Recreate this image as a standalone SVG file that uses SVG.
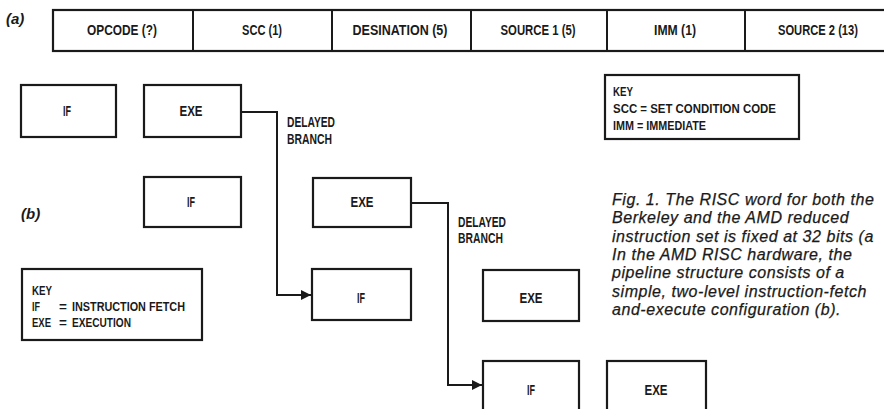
<svg xmlns="http://www.w3.org/2000/svg" width="884" height="409" viewBox="0 0 884 409">
<style>
  .bg{fill:#ffffff}
  .box{fill:#ffffff;stroke:#1a1a1a;stroke-width:2.2}
  .wire{fill:none;stroke:#1a1a1a;stroke-width:2}
  .lbl{font-family:"Liberation Sans",Arial,sans-serif;font-size:14.5px;font-weight:bold;fill:#1a1a1a}
  .key{font-size:13.5px}
  .mid{text-anchor:middle}
  .tag{font-family:"Liberation Sans",Arial,sans-serif;font-size:15px;font-weight:bold;font-style:italic;fill:#1a1a1a}
  .cap{font-family:"Liberation Sans",Arial,sans-serif;font-size:16px;font-style:italic;fill:#1a1a1a;letter-spacing:0.55px;stroke:#1a1a1a;stroke-width:0.25}
</style>
<defs>
  <marker id="arrow" viewBox="0 0 10 10" refX="10" refY="5" markerWidth="5" markerHeight="5" orient="auto" markerUnits="strokeWidth">
    <path d="M0,0 L10,5 L0,10 z" fill="#1a1a1a"/>
  </marker>
</defs>
<rect class="bg" x="0" y="0" width="884" height="409"/>

<text class="tag" x="6" y="24">(a)</text>
<text class="tag" x="21" y="219">(b)</text>

<g id="word">
  <rect class="box" x="53" y="10" width="840" height="41"/>
  <line class="wire" x1="193" y1="10" x2="193" y2="51"/>
  <line class="wire" x1="332" y1="10" x2="332" y2="51"/>
  <line class="wire" x1="471" y1="10" x2="471" y2="51"/>
  <line class="wire" x1="607" y1="10" x2="607" y2="51"/>
  <line class="wire" x1="745" y1="10" x2="745" y2="51"/>
  <text class="lbl mid" x="122" y="35" textLength="70" lengthAdjust="spacingAndGlyphs">OPCODE (?)</text>
  <text class="lbl mid" x="262" y="35" textLength="40" lengthAdjust="spacingAndGlyphs">SCC (1)</text>
  <text class="lbl mid" x="400" y="35" textLength="95" lengthAdjust="spacingAndGlyphs">DESINATION (5)</text>
  <text class="lbl mid" x="538" y="35" textLength="75" lengthAdjust="spacingAndGlyphs">SOURCE 1 (5)</text>
  <text class="lbl mid" x="675" y="35" textLength="42" lengthAdjust="spacingAndGlyphs">IMM (1)</text>
  <text class="lbl mid" x="818" y="35" textLength="80" lengthAdjust="spacingAndGlyphs">SOURCE 2 (13)</text>
</g>

<g id="key-a">
  <rect class="box" x="605" y="75" width="194" height="64"/>
  <text class="lbl key" x="613" y="96" textLength="20" lengthAdjust="spacingAndGlyphs">KEY</text>
  <text class="lbl key" x="613" y="113" textLength="163" lengthAdjust="spacingAndGlyphs">SCC = SET CONDITION CODE</text>
  <text class="lbl key" x="613" y="130" textLength="93" lengthAdjust="spacingAndGlyphs">IMM = IMMEDIATE</text>
</g>

<g id="if1">
  <rect class="box" x="21" y="85" width="95" height="52"/>
  <text class="lbl mid" x="67" y="116" textLength="8" lengthAdjust="spacingAndGlyphs">IF</text>
</g>
<g id="exe1">
  <rect class="box" x="144" y="85" width="97" height="52"/>
  <text class="lbl mid" x="191" y="116" textLength="23" lengthAdjust="spacingAndGlyphs">EXE</text>
</g>
<g id="if2">
  <rect class="box" x="144" y="177" width="97" height="50"/>
  <text class="lbl mid" x="191" y="207" textLength="8" lengthAdjust="spacingAndGlyphs">IF</text>
</g>
<g id="exe2">
  <rect class="box" x="313" y="178" width="98" height="49"/>
  <text class="lbl mid" x="362" y="207" textLength="23" lengthAdjust="spacingAndGlyphs">EXE</text>
</g>
<g id="if3">
  <rect class="box" x="312" y="269" width="99" height="51"/>
  <text class="lbl mid" x="361" y="303" textLength="8" lengthAdjust="spacingAndGlyphs">IF</text>
</g>
<g id="exe3">
  <rect class="box" x="483" y="270" width="96" height="51"/>
  <text class="lbl mid" x="531" y="303" textLength="23" lengthAdjust="spacingAndGlyphs">EXE</text>
</g>
<g id="if4">
  <rect class="box" x="483" y="361" width="96" height="60"/>
  <text class="lbl mid" x="531" y="395" textLength="8" lengthAdjust="spacingAndGlyphs">IF</text>
</g>
<g id="exe4">
  <rect class="box" x="607" y="361" width="99" height="60"/>
  <text class="lbl mid" x="656" y="395" textLength="23" lengthAdjust="spacingAndGlyphs">EXE</text>
</g>

<g id="key-b">
  <rect class="box" x="22" y="269" width="180" height="71"/>
  <text class="lbl key" x="32" y="295" textLength="20" lengthAdjust="spacingAndGlyphs">KEY</text>
  <text class="lbl key" y="311"><tspan x="32" textLength="8" lengthAdjust="spacingAndGlyphs">IF</tspan><tspan x="59">=</tspan><tspan x="72" textLength="113" lengthAdjust="spacingAndGlyphs">INSTRUCTION FETCH</tspan></text>
  <text class="lbl key" y="327"><tspan x="32" textLength="19" lengthAdjust="spacingAndGlyphs">EXE</tspan><tspan x="59">=</tspan><tspan x="72" textLength="59" lengthAdjust="spacingAndGlyphs">EXECUTION</tspan></text>
</g>

<g id="connectors">
  <path class="wire" d="M241,112 H277 V295 H311" marker-end="url(#arrow)"/>
  <path class="wire" d="M411,203 H448 V385 H482" marker-end="url(#arrow)"/>
  <text class="lbl" x="287" y="127" textLength="48" lengthAdjust="spacingAndGlyphs">DELAYED</text>
  <text class="lbl" x="287" y="144" textLength="45" lengthAdjust="spacingAndGlyphs">BRANCH</text>
  <text class="lbl" x="458" y="227" textLength="48" lengthAdjust="spacingAndGlyphs">DELAYED</text>
  <text class="lbl" x="458" y="243" textLength="45" lengthAdjust="spacingAndGlyphs">BRANCH</text>
</g>

<g id="caption">
  <text class="cap" x="612" y="205">Fig. 1. The RISC word for both the</text>
  <text class="cap" x="612" y="223">Berkeley and the AMD reduced</text>
  <text class="cap" x="612" y="241.5">instruction set is fixed at 32 bits (a</text>
  <text class="cap" x="612" y="260">In the AMD RISC hardware, the</text>
  <text class="cap" x="612" y="278">pipeline structure consists of a</text>
  <text class="cap" x="612" y="296.5">simple, two-level instruction-fetch</text>
  <text class="cap" x="612" y="315">and-execute configuration (b).</text>
</g>
</svg>
